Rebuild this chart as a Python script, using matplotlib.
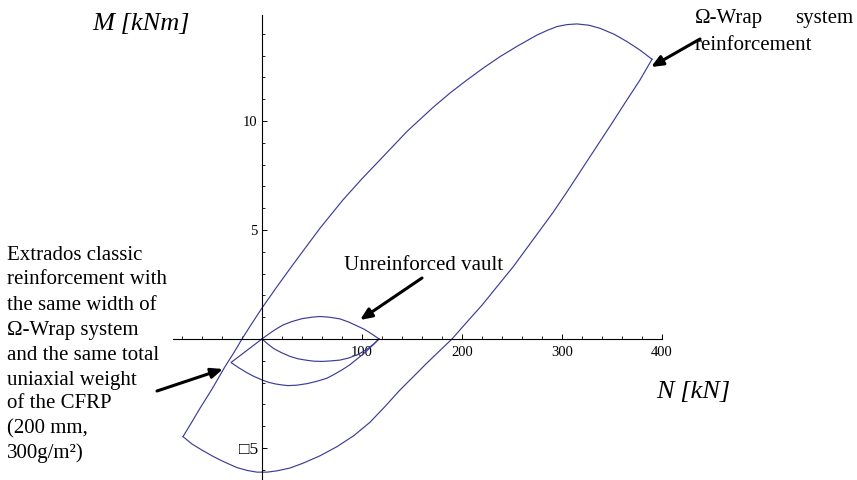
import numpy as np
import matplotlib.pyplot as plt
from matplotlib.ticker import FixedLocator, FixedFormatter, MultipleLocator

plt.rcParams['font.family'] = ['Liberation Serif', 'DejaVu Serif']

# dominio M-N, rinforzo Omega-Wrap (N [kN], M [kNm])
omega_up_N = [-79, -70, -62, -50, -37, -28, -20, -10, 0, 15, 30, 45, 58, 70, 81, 100, 121, 145,
              171, 188, 205, 222, 238, 256, 275, 285, 295, 305, 315, 327, 338, 352, 365, 378, 390]
omega_up_M = [-4.48, -3.8, -3.18, -2.3, -1.27, -0.62, 0.0, 0.72, 1.42, 2.4, 3.35, 4.28, 5.08, 5.76,
              6.38, 7.35, 8.36, 9.52, 10.62, 11.28, 11.88, 12.45, 12.95, 13.45, 13.94, 14.15, 14.33,
              14.42, 14.45, 14.39, 14.25, 13.98, 13.64, 13.25, 12.83]
omega_lo_N = [-79, -70, -60, -50, -42, -33, -25, -15, -5, 5, 15, 28, 41, 58, 75, 92, 108, 123,
              138, 152, 165, 178, 190, 205, 220, 235, 251, 271, 291, 305, 320, 335, 350, 364, 378, 390]
omega_lo_M = [-4.48, -4.82, -5.1, -5.36, -5.55, -5.74, -5.9, -6.03, -6.11, -6.11, -6.05, -5.92,
              -5.7, -5.36, -4.94, -4.43, -3.82, -3.1, -2.34, -1.7, -1.1, -0.53, 0.0, 0.78, 1.55,
              2.4, 3.3, 4.55, 5.8, 6.75, 7.8, 8.85, 9.9, 10.9, 11.88, 12.83]

# volta non rinforzata
unr_up_N = [0, 5, 10, 15, 21, 30, 40, 50, 58, 67, 78, 87, 95, 102, 107, 112, 117]
unr_up_M = [0, 0.17, 0.33, 0.48, 0.64, 0.8, 0.93, 1.0, 1.03, 1.0, 0.92, 0.77, 0.6, 0.45, 0.31, 0.16, 0.0]
unr_lo_N = [0, 6, 12, 20, 28, 36, 45, 52, 60, 68, 78, 87, 95, 102, 107, 112, 117]
unr_lo_M = [0, -0.24, -0.45, -0.64, -0.8, -0.91, -0.98, -1.02, -1.03, -1.01, -0.97, -0.87, -0.73,
            -0.56, -0.4, -0.22, 0.0]

# rinforzo classico all'estradosso
ext_N = [0, -31, -23, -15, -8, 0, 6, 13, 20, 26, 35, 45, 55, 65, 72, 80, 88, 95, 101, 107, 112, 117]
ext_M = [0, -1.08, -1.33, -1.55, -1.72, -1.88, -1.98, -2.06, -2.11, -2.14, -2.12, -2.05, -1.94,
         -1.8, -1.63, -1.42, -1.18, -0.92, -0.7, -0.45, -0.23, 0.0]

xticks = [100, 200, 300, 400]
yticks = [-5, 5, 10]
ytick_labels = ['\u25a15', '5', '10']

W, H = 857, 480
fig = plt.figure(figsize=(W / 100, H / 100), dpi=100)
ax = fig.add_axes([173 / W, 0, 489 / W, 465 / H])
ax.set_xlim(-89, 400)
ax.set_ylim(-6.47, 14.86)

col = '#3d3d99'
ax.plot(omega_up_N, omega_up_M, color=col, lw=0.85)
ax.plot(omega_lo_N, omega_lo_M, color=col, lw=0.85)
ax.plot(unr_up_N, unr_up_M, color=col, lw=0.85)
ax.plot(unr_lo_N, unr_lo_M, color=col, lw=0.85)
ax.plot(ext_N, ext_M, color=col, lw=0.85)

for s in ['top', 'right']:
    ax.spines[s].set_visible(False)
for s in ['left', 'bottom']:
    ax.spines[s].set_position(('data', 0))
    ax.spines[s].set_linewidth(0.8)
ax.patch.set_visible(False)

ax.xaxis.set_major_locator(FixedLocator(xticks))
ax.xaxis.set_minor_locator(MultipleLocator(20))
ax.yaxis.set_major_locator(FixedLocator(yticks))
ax.yaxis.set_major_formatter(FixedFormatter(ytick_labels))
ax.yaxis.set_minor_locator(MultipleLocator(1))
ax.tick_params(which='major', direction='in', length=3.8, width=0.7, labelsize=10.5)
ax.tick_params(which='minor', direction='in', length=2.0, width=0.6)
ax.tick_params(axis='x', which='major', pad=5)
ax.tick_params(axis='y', which='major', pad=3)
fig.canvas.draw()
ax.get_yticklabels()[0].set_fontsize(12.5)


def fp(x, y):
    return (x / W, 1 - y / H)


fs = 15
fig.text(*fp(92, 24), 'M [kNm]', fontsize=19, style='italic', va='center', ha='left')
fig.text(*fp(656, 392), 'N [kN]', fontsize=19, style='italic', va='center', ha='left')

fig.text(*fp(695, 18), '\u03a9-Wrap', fontsize=fs, va='center', ha='left')
fig.text(*fp(853, 18), 'system', fontsize=fs, va='center', ha='right')
fig.text(*fp(695, 45), 'reinforcement', fontsize=fs, va='center', ha='left')
fig.text(*fp(503, 265), 'Unreinforced vault', fontsize=fs, va='center', ha='right')

left_lines = ['Extrados classic', 'reinforcement with', 'the same width of',
              '\u03a9-Wrap system', 'and the same total', 'uniaxial weight',
              'of the CFRP', '(200 mm,', '300g/m\u00b2)']
left_y = [255, 280, 305, 331, 355, 380, 404, 429, 453]
for t, yy in zip(left_lines, left_y):
    fig.text(*fp(7, yy), t, fontsize=fs, va='center', ha='left')

arrow = dict(arrowstyle='-|>,head_length=0.7,head_width=0.3', lw=2.2,
             color='black', shrinkA=0, shrinkB=0)
for tail, tip in [((700, 39), (651, 67)), ((422, 278), (360, 320)), ((157, 391), (223, 369))]:
    ax.annotate('', xy=fp(*tip), xycoords='figure fraction',
                xytext=fp(*tail), textcoords='figure fraction',
                arrowprops=arrow, annotation_clip=False)

fig.savefig('out.png', dpi=100)
